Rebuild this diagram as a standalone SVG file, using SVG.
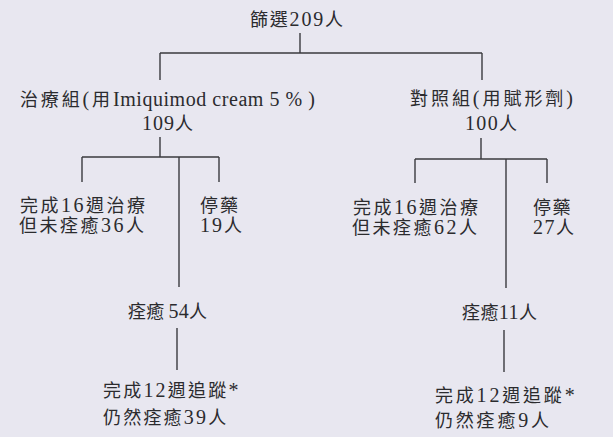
<svg xmlns="http://www.w3.org/2000/svg" width="613" height="437" viewBox="0 0 613 437">
<style>
text{font-family:"Noto Sans CJK TC","Noto Sans CJK SC",sans-serif;font-size:18px;fill:#2b2b2e;}
.lat{font-family:"Liberation Serif","Times New Roman",serif;font-size:20px;}
.two{letter-spacing:2.5px;}
#connectors line{stroke:#3a3a3e;stroke-width:1.4;fill:none;}
</style>
<rect x="0" y="0" width="613" height="437" fill="#e8e7f0"/>
<g id="connectors">
<line x1="300" y1="33" x2="300" y2="53"/>
<line x1="160" y1="53" x2="482" y2="53"/>
<line x1="160" y1="53" x2="160" y2="80"/>
<line x1="482" y1="53" x2="482" y2="80"/>
<line x1="160" y1="137" x2="160" y2="157"/>
<line x1="82" y1="157" x2="219" y2="157"/>
<line x1="82" y1="157" x2="82" y2="182"/>
<line x1="219" y1="157" x2="219" y2="182"/>
<line x1="179" y1="157" x2="179" y2="287"/>
<line x1="481" y1="138" x2="481" y2="159"/>
<line x1="415" y1="159" x2="547" y2="159"/>
<line x1="415" y1="159" x2="415" y2="183"/>
<line x1="547" y1="159" x2="547" y2="183"/>
<line x1="506" y1="159" x2="506" y2="288"/>
<line x1="177" y1="328" x2="177" y2="370"/>
<line x1="504" y1="330" x2="504" y2="372"/>
</g>
<g id="screen"><text x="250" y="26" textLength="93" lengthAdjust="spacing">篩選<tspan class="lat">209</tspan>人</text></g>
<g id="treatment">
<text x="20" y="106" textLength="90" lengthAdjust="spacing">治療組<tspan class="lat">(</tspan>用</text>
<text class="lat" x="113" y="106" textLength="202" lengthAdjust="spacing">Imiquimod cream 5 % )</text>
<text x="142" y="130" textLength="51" lengthAdjust="spacing"><tspan class="lat">109</tspan>人</text>
</g>
<g id="control">
<text x="410" y="105" textLength="163" lengthAdjust="spacing">對照組<tspan class="lat">(</tspan>用賦形劑<tspan class="lat">)</tspan></text>
<text x="465" y="130" textLength="52" lengthAdjust="spacing"><tspan class="lat">100</tspan>人</text>
</g>
<g id="t-complete">
<text class="two" x="20" y="212"><tspan x="20">完成<tspan class="lat">16</tspan>週治療</tspan><tspan x="19" dy="20">但未痊癒<tspan class="lat">36</tspan>人</tspan></text>
</g>
<g id="t-stop">
<text x="200" y="212" style="letter-spacing:2px"><tspan x="200">停藥</tspan><tspan x="200" dy="20"><tspan class="lat">19</tspan>人</tspan></text>
</g>
<g id="c-complete">
<text class="two" x="353" y="214"><tspan x="353">完成<tspan class="lat">16</tspan>週治療</tspan><tspan x="352" dy="20">但未痊癒<tspan class="lat">62</tspan>人</tspan></text>
</g>
<g id="c-stop">
<text x="533" y="214" style="letter-spacing:1.5px"><tspan x="533">停藥</tspan><tspan x="533" dy="20"><tspan class="lat">27</tspan>人</tspan></text>
</g>
<g id="t-cured"><text x="128" y="318" textLength="79" lengthAdjust="spacing">痊癒 <tspan class="lat">54</tspan>人</text></g>
<g id="c-cured"><text x="462" y="319" textLength="75" lengthAdjust="spacing">痊癒<tspan class="lat">11</tspan>人</text></g>
<g id="t-follow">
<text x="103" y="397" style="letter-spacing:2.2px"><tspan x="103">完成<tspan class="lat">12</tspan>週追蹤<tspan class="lat">*</tspan></tspan><tspan x="103" dy="27">仍然痊癒<tspan class="lat">39</tspan>人</tspan></text>
</g>
<g id="c-follow">
<text x="435" y="402" style="letter-spacing:2.8px"><tspan x="435">完成<tspan class="lat">12</tspan>週追蹤<tspan class="lat">*</tspan></tspan><tspan x="435" dy="25">仍然痊癒<tspan class="lat">9</tspan>人</tspan></text>
</g>
</svg>
